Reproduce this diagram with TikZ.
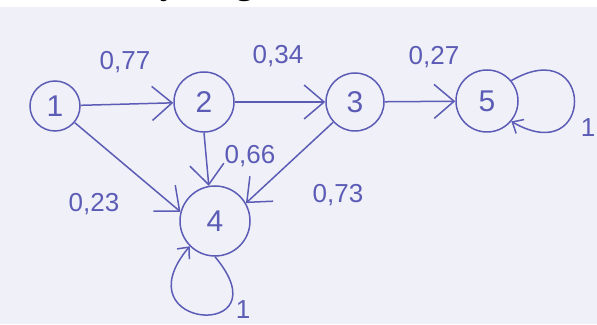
\documentclass[tikz,border=0pt]{standalone}
\usepackage{fontspec}
\setmainfont{Liberation Sans}
\newfontfamily\capfont{Liberation Serif}
\usetikzlibrary{arrows.meta}
\definecolor{ink}{RGB}{92,92,182}
\definecolor{paper}{RGB}{240,241,248}

\begin{document}
\begin{tikzpicture}[x=1pt,y=1pt,
  vertex/.style={circle, draw=ink, line width=1.5pt, text=ink, inner sep=0pt, font=\fontsize{30}{30}\selectfont},
  arc/.style={draw=ink, line width=1.5pt, -{Straight Barb[length=20pt,width=34pt,line width=1.5pt]}},
  loopArc/.style={draw=ink, line width=1.5pt, -{Straight Barb[length=9pt,width=16pt,line width=1.5pt]}},
  lbl/.style={text=ink, inner sep=0pt, font=\fontsize{26}{26}\selectfont}]
\useasboundingbox (0,0) rectangle (597,324);
\fill[paper] (0,0) rectangle (597,317);
\begin{scope}
\clip (0,0) rectangle (597,324);
\node[anchor=base west, inner sep=0pt, font=\capfont\fontsize{38}{38}\selectfont] (caption) at (160,330) {y diag};
\end{scope}

% states
\node[vertex, minimum size=50pt] (n1) at (55,218) {1};
\node[vertex, minimum size=60pt] (n2) at (204,222) {2};
\node[vertex, minimum size=58pt] (n3) at (355,222) {3};
\node[vertex, minimum size=62pt] (n5) at (487,223) {5};
\node[vertex, minimum size=70pt] (n4) at (215,103) {4};

% transitions
\draw[arc] (n1) -- (n2);
\draw[arc] (n2) -- (n3);
\draw[arc] (n3) -- (n5);
\draw[arc] (n1) -- (n4.165);
\draw[arc] (n2.-90) -- (n4.100);
\draw[arc] (n3) -- (n4.30);
\draw[loopArc] (n5.40) .. controls +(30:97pt) and +(-30:97pt) .. (n5.-40);
\draw[loopArc] (n4.-90) .. controls +(-50:110pt) and +(-130:110pt) .. (n4.-135);

% probabilities
\node[lbl] (p12) at (125,262) {0,77};
\node[lbl] (p23) at (278,268) {0,34};
\node[lbl] (p35) at (434,267) {0,27};
\node[lbl] (p24) at (250,168) {0,66};
\node[lbl] (p14) at (94,120) {0,23};
\node[lbl] (p34) at (338,129) {0,73};
\node[lbl] (p55) at (588,196) {1};
\node[lbl] (p44) at (243,14) {1};
\end{tikzpicture}
\end{document}
